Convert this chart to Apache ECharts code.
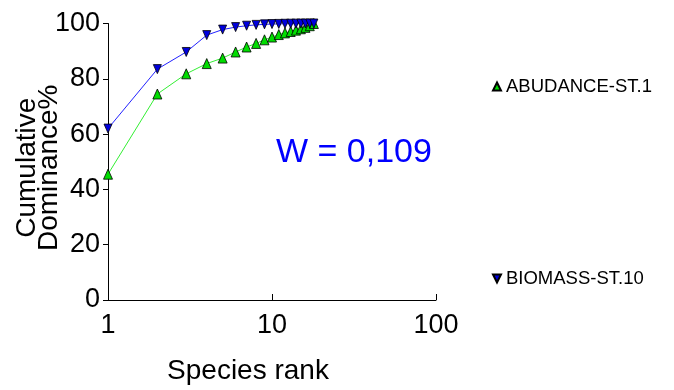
<!DOCTYPE html>
<html>
<head>
<meta charset="utf-8">
<script src="https://cdn.jsdelivr.net/npm/echarts@6/dist/echarts.min.js"></script>
<style>html,body{margin:0;padding:0;background:#fff}#c{width:674px;height:390px}</style>
</head>
<body>
<div id="c"></div>
<script>
var ranks = [1,2,3,4,5,6,7,8,9,10,11,12,13,14,15,16,17,18];
var abundance = [45.5,74.5,81.8,85.5,87.5,89.7,91.5,92.8,94.1,95.1,96.0,96.6,97.1,97.6,98.1,98.6,99.2,100];
var biomass = [62,83.5,89.7,95.8,97.8,98.7,99.2,99.5,99.7,99.8,99.85,99.9,99.93,99.95,99.97,99.98,99.99,100];
var yTicks = [0,20,40,60,80,100];
var xTicks = [1,10,100];
var seriesNames = ['ABUDANCE-ST.10','BIOMASS-ST.10'];
var annotation = 'W = 0,109';

var FONT = 'Liberation Sans, Arial, sans-serif';
var downTri = 'path://M0,0L10,0L5,10Z';
var upTri = 'path://M5,0L10,10L0,10Z';

function pairs(vals){ return ranks.map(function(r,i){ return [r, vals[i]]; }); }

var chart = echarts.init(document.getElementById('c'));
chart.setOption({
  animation: false,
  backgroundColor: '#fff',
  grid: { left: 108, right: 238, top: 23.5, bottom: 89, containLabel: false },
  xAxis: {
    type: 'log', logBase: 10, min: xTicks[0], max: xTicks[xTicks.length-1],
    name: 'Species rank', nameLocation: 'middle', nameGap: 57, nameMoveOverlap: false,
    nameTextStyle: { fontFamily: FONT, fontSize: 28, color: '#000', padding: [0, 48, 0, 0] },
    axisLine: { show: true, lineStyle: { color: '#000', width: 1 } },
    axisTick: { show: true, inside: true, length: 6, lineStyle: { color: '#000' } },
    minorTick: { show: false },
    splitLine: { show: false },
    axisLabel: { fontFamily: FONT, fontSize: 27, color: '#000', margin: 12 }
  },
  yAxis: {
    type: 'value', min: yTicks[0], max: yTicks[yTicks.length-1], interval: 20,
    name: 'Cumulative\nDominance%', nameLocation: 'middle', nameRotate: 90, nameGap: 48, nameMoveOverlap: false,
    nameTextStyle: { fontFamily: FONT, fontSize: 28, color: '#000', lineHeight: 22, padding: [0, 12, 0, 0] },
    axisLine: { show: true, lineStyle: { color: '#000', width: 1 } },
    axisTick: { show: true, length: 5, lineStyle: { color: '#000' } },
    splitLine: { show: false },
    axisLabel: { fontFamily: FONT, fontSize: 27, color: '#000', margin: 8 }
  },
  legend: [
    { data: [{ name: seriesNames[0], icon: upTri }], left: 487, top: 72, orient: 'vertical',
      itemWidth: 8, itemHeight: 10, itemGap: 0,
      textStyle: { fontFamily: FONT, fontSize: 18.5, color: '#000', width: 150, overflow: 'truncate', ellipsis: '' } },
    { data: [{ name: seriesNames[1], icon: downTri }], left: 487, top: 264, orient: 'vertical',
      itemWidth: 8, itemHeight: 10, itemGap: 0,
      textStyle: { fontFamily: FONT, fontSize: 18.5, color: '#000' } }
  ],
  graphic: [
    { type: 'text', left: 276, top: 136,
      style: { text: annotation, fontFamily: FONT, fontSize: 34, fill: '#0000ff' } }
  ],
  series: [
    { name: seriesNames[0], type: 'line', data: pairs(abundance),
      symbol: upTri, symbolSize: [9, 10], showAllSymbol: true,
      lineStyle: { color: '#33ee33', width: 1 },
      itemStyle: { color: '#00dd00', borderColor: '#000', borderWidth: 0.8 } },
    { name: seriesNames[1], type: 'line', data: pairs(biomass),
      symbol: downTri, symbolSize: [8, 9], showAllSymbol: true,
      lineStyle: { color: '#2222ff', width: 1 },
      itemStyle: { color: '#0000dd', borderColor: '#000', borderWidth: 0.8 } }
  ]
});
</script>
</body>
</html>
